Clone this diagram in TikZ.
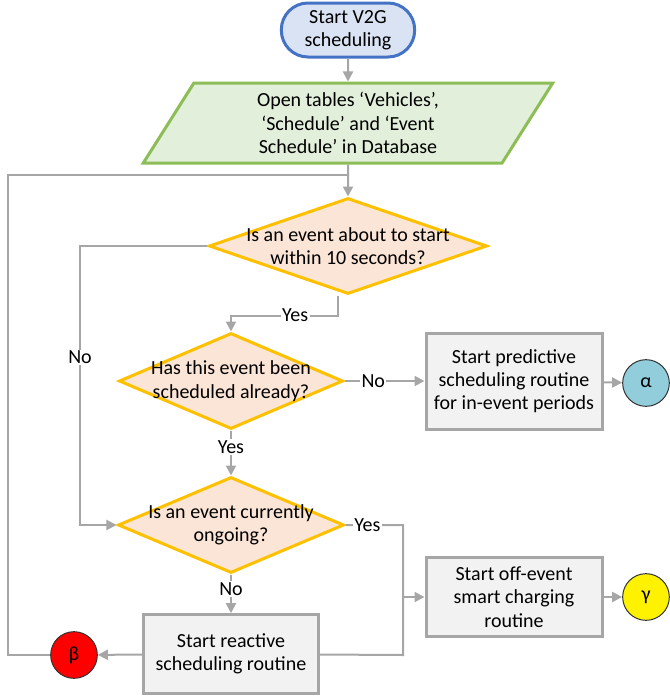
\documentclass[tikz,border=0pt]{standalone}
\usepackage{fontspec}
\setmainfont{Carlito}
\usetikzlibrary{shapes.geometric, arrows.meta, calc}

\definecolor{startblue}{HTML}{4472C4}
\definecolor{startfill}{HTML}{DAE3F3}
\definecolor{iogreen}{HTML}{8CBD56}
\definecolor{iofill}{HTML}{E2EFDA}
\definecolor{decborder}{HTML}{FFC000}
\definecolor{decfill}{HTML}{FBE5D6}
\definecolor{boxborder}{HTML}{A6A6A6}
\definecolor{boxfill}{HTML}{F2F2F2}
\definecolor{lineg}{HTML}{A6A6A6}
\definecolor{alphablue}{HTML}{92CDDC}

\begin{document}
\begin{tikzpicture}[x=0.75pt, y=-0.75pt, font=\fontsize{15pt}{17.5pt}\selectfont,
    terminal/.style={draw=startblue, fill=startfill, line width=2.25pt, rounded corners=20pt, minimum width=100pt, minimum height=40.5pt, align=center, inner sep=0pt},
    io/.style={trapezium, trapezium left angle=64, trapezium right angle=116, trapezium stretches=true, draw=iogreen, fill=iofill, line width=2.25pt, minimum width=307.5pt, minimum height=60pt, align=center, inner sep=0pt},
    decision/.style={diamond, draw=decborder, fill=decfill, line width=2.25pt, inner sep=0pt, minimum height=72pt},
    process/.style={rectangle, draw=boxborder, fill=boxfill, line width=2.25pt, minimum width=132pt, align=center, inner sep=2pt},
    conn/.style={circle, draw=black!80, line width=0.75pt, minimum size=35pt, inner sep=0pt},
    line/.style={draw=lineg, line width=1.5pt},
    arrow/.style={line, -{Triangle[length=7.5pt,width=7.5pt]}},
    lbl/.style={fill=white, inner sep=1pt}]
    \useasboundingbox (0,0) rectangle (669,697);
    % start and tables
    \node[terminal] (start) at (348,30) {Start V2G\\scheduling};
    \node[io] (tables) at (348,123) {Open tables ‘Vehicles’,\\‘Schedule’ and ‘Event\\Schedule’ in Database};
    % decisions
    \node[decision, minimum width=208.5pt, label={[align=center]center:Is an event about to start\\within 10 seconds?}] (event) at (348,246) {};
    \node[decision, minimum width=168pt, label={[align=center]center:Has this event been\\scheduled already?}] (sched) at (231,381) {};
    \node[decision, minimum width=169.5pt, label={[align=center]center:Is an event currently\\ongoing?}] (ongoing) at (231,525) {};
    % routines
    \node[process, minimum height=72pt] (predict) at (514,381) {Start predictive\\scheduling routine\\for in-event periods};
    \node[process, minimum height=59pt] (offevent) at (514,597) {Start off-event\\smart charging\\routine};
    \node[process, minimum width=131pt, minimum height=59pt] (reactive) at (231,654) {Start reactive\\scheduling routine};
    % connectors
    \node[conn, fill=alphablue] (alpha) at (646,383) {α};
    \node[conn, fill=red] (beta) at (74,655) {β};
    \node[conn, fill=yellow] (gamma) at (646,597) {γ};
    \coordinate (loop) at (8,175);
    \coordinate (nocorner) at (80,246);
    \coordinate (join) at (403,655);
    % flow
    \draw[arrow] (start) -- (tables);
    \draw[arrow] (tables) -- (event);
    \draw[line] (beta) -| (loop) -- (loop -| event.north);
    \draw[arrow] (event) -- (nocorner) |- node[lbl, pos=0.2] {No} (ongoing);
    \draw[arrow] ($(event.south)+(-10,0)$) -- ++(0,20) -| node[lbl, pos=0.2] {Yes} (sched.north);
    \draw[arrow] (sched) -- node[lbl, pos=0.36] {No} (predict);
    \draw[arrow] (predict) -- (alpha);
    \draw[arrow] (sched) -- node[lbl, pos=0.36] {Yes} (ongoing);
    \draw[arrow] (ongoing) -- node[lbl, pos=0.38] {No} (reactive);
    \draw[arrow] (reactive) -- (beta);
    \draw[line] (ongoing) -| node[lbl, pos=0.19] {Yes} (join) -- (reactive);
    \draw[arrow] (join |- offevent) -- (offevent);
    \draw[arrow] (offevent) -- (gamma);
\end{tikzpicture}
\end{document}
